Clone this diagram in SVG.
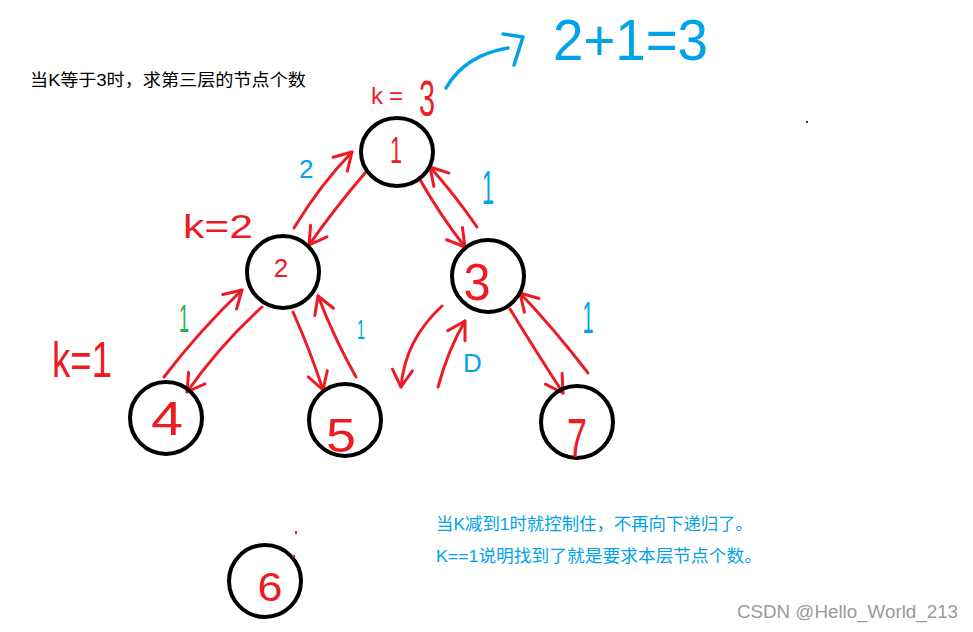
<svg xmlns="http://www.w3.org/2000/svg" width="973" height="632" viewBox="0 0 973 632">
  <defs>
    <style>
      .node { fill: none; stroke: #000; stroke-width: 4; }
      .lbl { fill: #ed1c24; font-family: "Liberation Sans", "DejaVu Sans", sans-serif; text-anchor: middle; }
      .red { fill: #ed1c24; font-family: "Liberation Sans", "DejaVu Sans", sans-serif; }
      .blue { fill: #00a2e8; font-family: "Liberation Sans", "DejaVu Sans", sans-serif; }
      .green { fill: #22b14c; font-family: "Liberation Sans", "DejaVu Sans", sans-serif; }
      .cn { font-family: "Liberation Sans", "Noto Sans CJK SC", sans-serif; font-size: 17px; }
      .arr { fill: none; stroke: #ed1c24; stroke-width: 3; stroke-linecap: round; marker-end: url(#head); }
      .barr { fill: none; stroke: #00a2e8; stroke-width: 3.5; stroke-linecap: round; stroke-linejoin: round; }
    </style>
    <marker id="head" viewBox="0 0 24 24" refX="21" refY="12" markerWidth="24" markerHeight="24" markerUnits="userSpaceOnUse" orient="auto">
      <path d="M4,2 L21,12 L4,22" fill="none" stroke="#ed1c24" stroke-width="3" stroke-linecap="round" stroke-linejoin="round"/>
    </marker>
  </defs>
  <rect width="973" height="632" fill="#fff"/>

  <text class="cn" x="30" y="86" fill="#000" textLength="276" lengthAdjust="spacingAndGlyphs">当K等于3时，求第三层的节点个数</text>

  <g id="connectors">
    <path class="arr" d="M294,228 Q320,185 352,152"/>
    <path class="arr" d="M365,173 Q335,208 309,245"/>
    <path class="arr" d="M419,178 Q440,215 465,247"/>
    <path class="arr" d="M477,227 Q455,195 430,167"/>
    <path class="arr" d="M164,377 Q200,330 242,290"/>
    <path class="arr" d="M262,307 Q220,345 187,392"/>
    <path class="arr" d="M293,312 Q310,350 323,390"/>
    <path class="arr" d="M356,377 Q335,340 318,296"/>
    <path class="arr" d="M442,306 Q405,340 401,387"/>
    <path class="arr" d="M438,387 Q448,350 465,321"/>
    <path class="arr" d="M510,309 Q535,350 563,393"/>
    <path class="arr" d="M588,373 Q555,330 520,293"/>
    <path class="barr" d="M446,88 Q465,55 508,48"/>
    <path class="barr" d="M503,34 L523,37 L514,65"/>
  </g>

  <g id="node1">
    <ellipse class="node" cx="397" cy="152" rx="36" ry="34"/>
    <text class="lbl" x="396" y="163" font-size="36" textLength="12" lengthAdjust="spacingAndGlyphs">1</text>
  </g>
  <g id="node2">
    <circle class="node" cx="283" cy="272" r="36"/>
    <text class="lbl" x="281" y="277" font-size="26">2</text>
  </g>
  <g id="node3">
    <circle class="node" cx="488" cy="276" r="36"/>
    <text class="lbl" x="477" y="300" font-size="52" textLength="27" lengthAdjust="spacingAndGlyphs">3</text>
  </g>
  <g id="node4">
    <circle class="node" cx="166" cy="418" r="36"/>
    <text class="lbl" x="167" y="435" font-size="48" textLength="32" lengthAdjust="spacingAndGlyphs">4</text>
  </g>
  <g id="node5">
    <circle class="node" cx="345" cy="420" r="36"/>
    <text class="lbl" x="341" y="452" font-size="48" textLength="30" lengthAdjust="spacingAndGlyphs">5</text>
  </g>
  <g id="node7">
    <circle class="node" cx="577" cy="422" r="36"/>
    <text class="lbl" x="577" y="457" font-size="56" textLength="20" lengthAdjust="spacingAndGlyphs">7</text>
  </g>
  <g id="node6">
    <circle class="node" cx="265" cy="581" r="36"/>
    <text class="lbl" x="270" y="601" font-size="40" textLength="25" lengthAdjust="spacingAndGlyphs">6</text>
  </g>

  <g id="labels">
    <text class="red" x="371" y="104" font-size="24">k<tspan x="389">=</tspan><tspan x="419" y="116" font-size="50" textLength="16" lengthAdjust="spacingAndGlyphs">3</tspan></text>
    <text class="blue" x="553" y="60" font-size="58" textLength="155" lengthAdjust="spacingAndGlyphs">2+1=3</text>
    <text class="blue" x="299" y="178" font-size="26">2</text>
    <text class="blue" x="488" y="204" font-size="48" text-anchor="middle" textLength="12" lengthAdjust="spacingAndGlyphs">1</text>
    <text class="red" x="183" y="238" font-size="34" textLength="70" lengthAdjust="spacingAndGlyphs">k=2</text>
    <text class="green" x="184" y="332" font-size="38" text-anchor="middle" textLength="10" lengthAdjust="spacingAndGlyphs">1</text>
    <text class="red" x="52" y="377" font-size="50" textLength="60" lengthAdjust="spacingAndGlyphs">k=1</text>
    <text class="blue" x="361" y="339" font-size="28" text-anchor="middle" textLength="8" lengthAdjust="spacingAndGlyphs">1</text>
    <text class="blue" x="463" y="372" font-size="26">D</text>
    <text class="blue" x="588" y="333" font-size="44" text-anchor="middle" textLength="11" lengthAdjust="spacingAndGlyphs">1</text>
  </g>

  <text class="cn" x="436" y="530" fill="#00a2e8" textLength="317" lengthAdjust="spacingAndGlyphs">当K减到1时就控制住，不再向下递归了。</text>
  <text class="cn" x="436" y="562" fill="#00a2e8" textLength="326" lengthAdjust="spacingAndGlyphs">K==1说明找到了就是要求本层节点个数。</text>
  <text x="737" y="618" font-family="Liberation Sans, sans-serif" font-size="18" fill="#9a9a9a" textLength="221" lengthAdjust="spacingAndGlyphs">CSDN @Hello_World_213</text>

  <rect x="295" y="531" width="2" height="3" fill="#ed1c24"/>
  <rect x="292" y="555" width="3" height="2" fill="#ed1c24"/>
  <rect x="806" y="121" width="2" height="2" fill="#7a2020"/>
</svg>
